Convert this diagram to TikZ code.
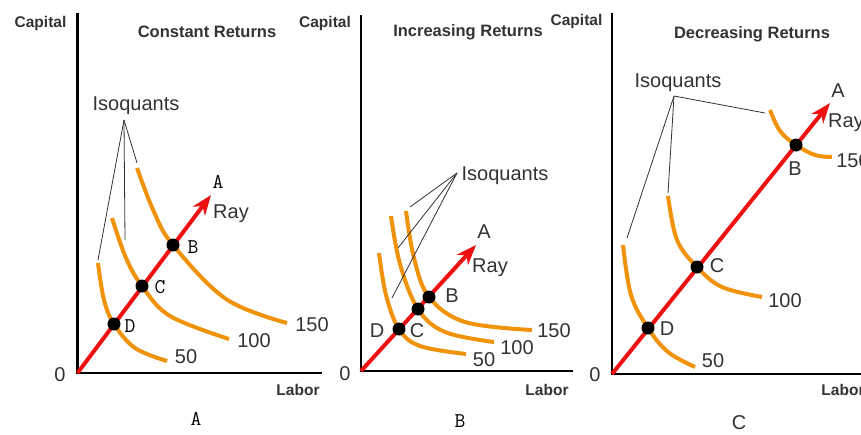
\documentclass[tikz,border=0pt]{standalone}
\usepackage{fontspec}
\setmainfont{Liberation Sans}
\usetikzlibrary{arrows.meta}
\definecolor{isoorange}{HTML}{F0920A}
\definecolor{rayred}{HTML}{EE1111}
\definecolor{txtgray}{HTML}{333333}
\begin{document}
\begin{tikzpicture}[x=1pt,y=-1pt,
 axis/.style={line width=2.5pt, black},
 ray/.style={line width=4pt, rayred, -{Stealth[length=20pt,width=15pt,inset=6pt]}},
 iso/.style={line width=4pt, isoorange},
 dot/.style={circle, fill=black, minimum size=13pt, inner sep=0pt},
 callout/.style={line width=0.8pt, black!80},
 axlab/.style={font=\fontsize{15.5}{15.5}\selectfont\bfseries, text=txtgray, inner sep=0pt, anchor=base},
 titlelab/.style={font=\fontsize{16.5}{16.5}\selectfont\bfseries, text=txtgray, inner sep=0pt, anchor=base},
 num/.style={font=\fontsize{20}{20}\selectfont, text=txtgray, inner sep=0pt, anchor=base},
 mono/.style={font=\fontsize{21}{21}\selectfont\ttfamily, inner sep=0pt, anchor=base},
]
\useasboundingbox (0,0) rectangle (861,434);
\fill[white] (0,0) rectangle (861,434);

%================ Panel A =================
\coordinate (A-top) at (77.5,13);
\coordinate (A-O) at (77.5,373);
\coordinate (A-right) at (322,373);
\draw[axis] (A-top) -- (A-O) -- (A-right);
\node[axlab] (A-cap) at (40.5,27.5) {Capital};
\node[titlelab] (A-title) at (207,37) {Constant Returns};
\node[axlab] (A-lab) at (298,395) {Labor};
\node[num] (A-zero) at (60,381) {0};
\node[mono] (A-name) at (196,425) {A};

\draw[iso] plot[smooth,tension=0.6] coordinates {(98,263) (104,300) (114,324) (135,348) (167,361)};
\draw[iso] plot[smooth,tension=0.6] coordinates {(112,218) (126,258) (142,286) (170,316) (229,339)};
\draw[iso] plot[smooth,tension=0.6] coordinates {(137,168) (154,212) (173,245) (226,299) (287,323)};

\coordinate (A-tip) at (211,195);
\draw[ray] (A-O) -- (A-tip);
\node[dot] (A-B) at (173,245) {};
\node[dot] (A-C) at (142,286) {};
\node[dot] (A-D) at (114,324) {};
\node[mono] (A-Bl) at (193,253) {B};
\node[mono] (A-Cl) at (160,293) {C};
\node[mono] (A-Dl) at (130,332) {D};
\node[mono] (A-Al) at (218,188) {A};
\node[num] (A-ray) at (231,218) {Ray};
\node[num] (A-50) at (186,363) {50};
\node[num] (A-100) at (254,347) {100};
\node[num] (A-150) at (312,331) {150};

\node[num] (A-iso) at (136,110) {Isoquants};
\coordinate (A-v) at (124,120);
\coordinate (A-e1) at (98,260);
\coordinate (A-e2) at (125,240);
\coordinate (A-e3) at (137,163);
\draw[callout] (A-v) -- (A-e1);
\draw[callout] (A-v) -- (A-e2);
\draw[callout] (A-v) -- (A-e3);

%================ Panel B =================
\coordinate (B-top) at (361,15);
\coordinate (B-O) at (361,371);
\coordinate (B-right) at (573,371);
\draw[axis] (B-top) -- (B-O) -- (B-right);
\node[axlab] (B-cap) at (325,27.5) {Capital};
\node[titlelab] (B-title) at (468,36) {Increasing Returns};
\node[axlab] (B-lab) at (547,395) {Labor};
\node[num] (B-zero) at (345,380) {0};
\node[mono] (B-name) at (460,427) {B};

\draw[iso] plot[smooth,tension=0.6] coordinates {(379,253) (386,295) (399,329) (420,346) (466,354)};
\draw[iso] plot[smooth,tension=0.6] coordinates {(391,216) (400,264) (418,309) (445,332) (494,342)};
\draw[iso] plot[smooth,tension=0.6] coordinates {(406,211) (414,258) (429,297) (465,322) (532,330)};

\coordinate (B-tip) at (476,245);
\draw[ray] (B-O) -- (B-tip);
\node[dot] (B-B) at (429,297) {};
\node[dot] (B-C) at (418,309) {};
\node[dot] (B-D) at (399,329) {};
\node[num] (B-Bl) at (452,302) {B};
\node[num] (B-Cl) at (417,337) {C};
\node[num] (B-Dl) at (377,337) {D};
\node[num] (B-Al) at (484,238) {A};
\node[num] (B-ray) at (490,272) {Ray};
\node[num] (B-50) at (484,366) {50};
\node[num] (B-100) at (517,354) {100};
\node[num] (B-150) at (554,337) {150};

\node[num] (B-iso) at (505,180) {Isoquants};
\coordinate (B-v) at (457,173);
\coordinate (B-e1) at (410,207);
\coordinate (B-e2) at (398,248);
\coordinate (B-e3) at (392,298);
\draw[callout] (B-v) -- (B-e1);
\draw[callout] (B-v) -- (B-e2);
\draw[callout] (B-v) -- (B-e3);

%================ Panel C =================
\coordinate (C-top) at (612,13);
\coordinate (C-O) at (612,374);
\coordinate (C-right) at (861,374);
\draw[axis] (C-top) -- (C-O) -- (C-right);
\node[axlab] (C-cap) at (576.5,25.5) {Capital};
\node[titlelab] (C-title) at (752,38) {Decreasing Returns};
\node[axlab] (C-lab) at (843,395) {Labor};
\node[num] (C-zero) at (595,381) {0};
\node[num] (C-name) at (739,429) {C};

\draw[iso] plot[smooth,tension=0.6] coordinates {(623,245) (631,295) (648,328) (668,352) (695,367)};
\draw[iso] plot[smooth,tension=0.6] coordinates {(668,196) (677,240) (697,267) (722,287) (762,297)};
\draw[iso] plot[smooth,tension=0.6] coordinates {(770,110) (780,131) (796,145) (815,155) (832,157)};

\coordinate (C-tip) at (830,103);
\draw[ray] (C-O) -- (C-tip);
\node[dot] (C-B) at (796,145) {};
\node[dot] (C-C) at (697,267) {};
\node[dot] (C-D) at (648,328) {};
\node[num] (C-Bl) at (795,175) {B};
\node[num] (C-Cl) at (717,272) {C};
\node[num] (C-Dl) at (667,335) {D};
\node[num] (C-Al) at (838,97) {A};
\node[num] (C-ray) at (846,127) {Ray};
\node[num] (C-50) at (713,367) {50};
\node[num] (C-100) at (785,307) {100};
\node[num] (C-150) at (853,167) {150};

\node[num] (C-iso) at (678,87) {Isoquants};
\coordinate (C-v) at (674,96);
\coordinate (C-e1) at (627,238);
\coordinate (C-e2) at (668,193);
\coordinate (C-e3) at (765,113);
\draw[callout] (C-v) -- (C-e1);
\draw[callout] (C-v) -- (C-e2);
\draw[callout] (C-v) -- (C-e3);
\end{tikzpicture}
\end{document}
